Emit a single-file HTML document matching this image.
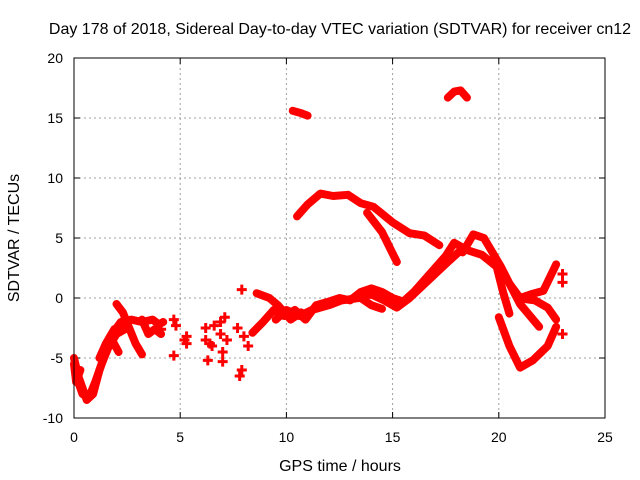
<!DOCTYPE html>
<html><head><meta charset="utf-8"><style>
body{margin:0;background:#fff}
svg{display:block;font-family:"Liberation Sans",sans-serif}
</style></head><body>
<svg width="640" height="480" viewBox="0 0 640 480">
<text x="340" y="34" font-size="16" text-anchor="middle">Day 178 of 2018, Sidereal Day-to-day VTEC variation (SDTVAR) for receiver cn12</text>
<g id="grid"></g>
<g id="ticks"></g>
<g id="marks"></g>
<rect x="74" y="58" width="531" height="360" fill="none" stroke="#000" stroke-width="1"/>
<text x="340" y="471" font-size="16" text-anchor="middle">GPS time / hours</text>
<text x="19" y="238" font-size="16" text-anchor="middle" transform="rotate(-90 19 238)">SDTVAR / TECUs</text>
</svg>
<script>
const xTicks=[0,5,10,15,20,25];
const yTicks=[-10,-5,0,5,10,15,20];
const traces=[
[[0,-5],[0.2,-6.5],[0.4,-7.5],[0.6,-8.5],[0.9,-8],[1.2,-6],[1.5,-4.5],[1.8,-3],[2.2,-2],[2.7,-1.8],[3.2,-2],[3.7,-1.8],[4,-2.2],[4.2,-2]],
[[0.1,-6.5],[0.4,-8],[0.7,-8.3],[1,-7],[1.3,-5.5],[1.6,-4.2],[2,-3],[2.5,-2.5]],
[[0,-5.5],[0.1,-7],[0.3,-6]],
[[1.2,-5],[1.5,-3.8],[1.9,-2.6],[2.4,-2.2]],
[[2,-0.5],[2.3,-1.2],[2.6,-2.5],[2.9,-3.8],[3.2,-4.7]],
[[1.7,-3.2],[2.1,-4.5]],
[[3.2,-1.8],[3.5,-3],[3.8,-2.6],[4.1,-3]],
[[8.4,-2.9],[8.9,-2],[9.4,-1],[9.9,-1.5],[10.4,-1],[10.9,-1.8],[11.4,-0.6],[12,-0.3],[12.5,0],[13,-0.2],[13.5,0.5],[14,0.8],[14.5,0.5],[15,0],[15.5,-0.3],[16,0.5],[16.5,1.5],[17,2.5],[17.5,3.5],[17.9,4.6],[18.3,4.2]],
[[9.5,-1.8],[10,-1],[10.6,-1.5],[11.2,-1],[12,-0.6],[12.6,-0.2],[13.4,0],[14,0.3],[14.6,-0.2],[15.2,-0.8],[15.8,0],[16.4,1],[17,2],[17.6,3],[18.1,3.8]],
[[8.6,0.4],[9.2,0],[9.6,-0.6],[10.2,-1.8],[10.7,-1.2]],
[[13.5,0],[14,-0.6],[14.5,-0.9]],
[[10.5,6.8],[11,7.8],[11.6,8.7],[12.2,8.5],[12.9,8.6],[13.5,7.9],[14.1,7.6],[15,6.3],[15.8,5.4],[16.5,5.2],[17.2,4.4]],
[[13.8,7.1],[14.5,5.5],[15.2,3.0]],
[[10.3,15.6],[10.7,15.4],[11,15.2]],
[[17.6,16.7],[17.9,17.2],[18.2,17.3],[18.5,16.7]],
[[18.3,3.8],[18.8,5.3],[19.3,5],[19.7,3.8],[20.1,2.6],[20.5,1.2],[21,0],[21.5,0.3],[22.1,0.6],[22.7,2.8]],
[[18.5,4],[19.2,3.6],[19.9,2.6],[20.2,0.5],[20.5,-1.3]],
[[20.5,1.2],[21,-0.5],[21.9,-2.4]],
[[20.9,0],[21.7,-0.2],[22.3,-0.8],[22.7,-1.8]],
[[20,-1.6],[20.5,-4],[21,-5.8],[21.6,-5.2],[22.3,-4],[22.7,-2.4]]
];
const pts=[[5.3,-3.2],[5.3,-3.8],[6.2,-2.5],[6.2,-3.5],[6.3,-5.2],[6.5,-4],[6.6,-2.3],[6.9,-2],[6.9,-3],[7.0,-4.5],[7.0,-5.3],[7.2,-3.5],[7.9,0.7],[7.9,-6],[7.8,-6.5],[8,-3.2],[4.7,-1.8],[4.7,-4.8],[4.8,-2.3],[23,2],[23,1.3],[23,-3],[7.7,-2.5],[8.2,-4],[6.4,-3.8],[7.1,-1.6],[5.2,-3.5],[4.1,-2.6]];
const X=h=>74+h*21.24, Y=v=>298-v*12;
const NS="http://www.w3.org/2000/svg";
function el(t,a,p){const e=document.createElementNS(NS,t);for(const k in a)e.setAttribute(k,a[k]);p.appendChild(e);return e;}
const grid=document.getElementById('grid'),ticks=document.getElementById('ticks'),marks=document.getElementById('marks');
xTicks.forEach(t=>{
 if(t>0&&t<25){const g=el('line',{x1:X(t),x2:X(t),y1:58,y2:418,stroke:'#a0a0a0','stroke-dasharray':'2,3'},grid);
 
 }
 el('line',{x1:X(t),x2:X(t),y1:418,y2:412,stroke:'#000'},ticks);
 el('line',{x1:X(t),x2:X(t),y1:58,y2:64,stroke:'#000'},ticks);
 const tx=el('text',{x:X(t),y:442,'font-size':14,'text-anchor':'middle'},ticks);tx.textContent=t;
 
 
});
yTicks.forEach(t=>{
 if(t>-10&&t<20){const g=el('line',{x1:74,x2:605,y1:Y(t),y2:Y(t),stroke:'#a0a0a0','stroke-dasharray':'2,3'},grid);
 
 }
 el('line',{x1:74,x2:80,y1:Y(t),y2:Y(t),stroke:'#000'},ticks);
 el('line',{x1:605,x2:599,y1:Y(t),y2:Y(t),stroke:'#000'},ticks);
 const tx=el('text',{x:63,y:Y(t)+5,'font-size':14,'text-anchor':'end'},ticks);tx.textContent=t;
 
 
});
traces.forEach(tr=>{
 const p=el('polyline',{points:tr.map(d=>X(d[0])+','+Y(d[1])).join(' '),fill:'none',stroke:'#ff0000','stroke-width':8,'stroke-linejoin':'round','stroke-linecap':'round'},marks);
 
 
});
pts.forEach(d=>{
 const x=X(d[0]),y=Y(d[1]);
 const p=el('path',{d:`M${x-5},${y}H${x+5}M${x},${y-5}V${y+5}`,stroke:'#ff0000','stroke-width':3},marks);
 
 
});
</script>
</body></html>
